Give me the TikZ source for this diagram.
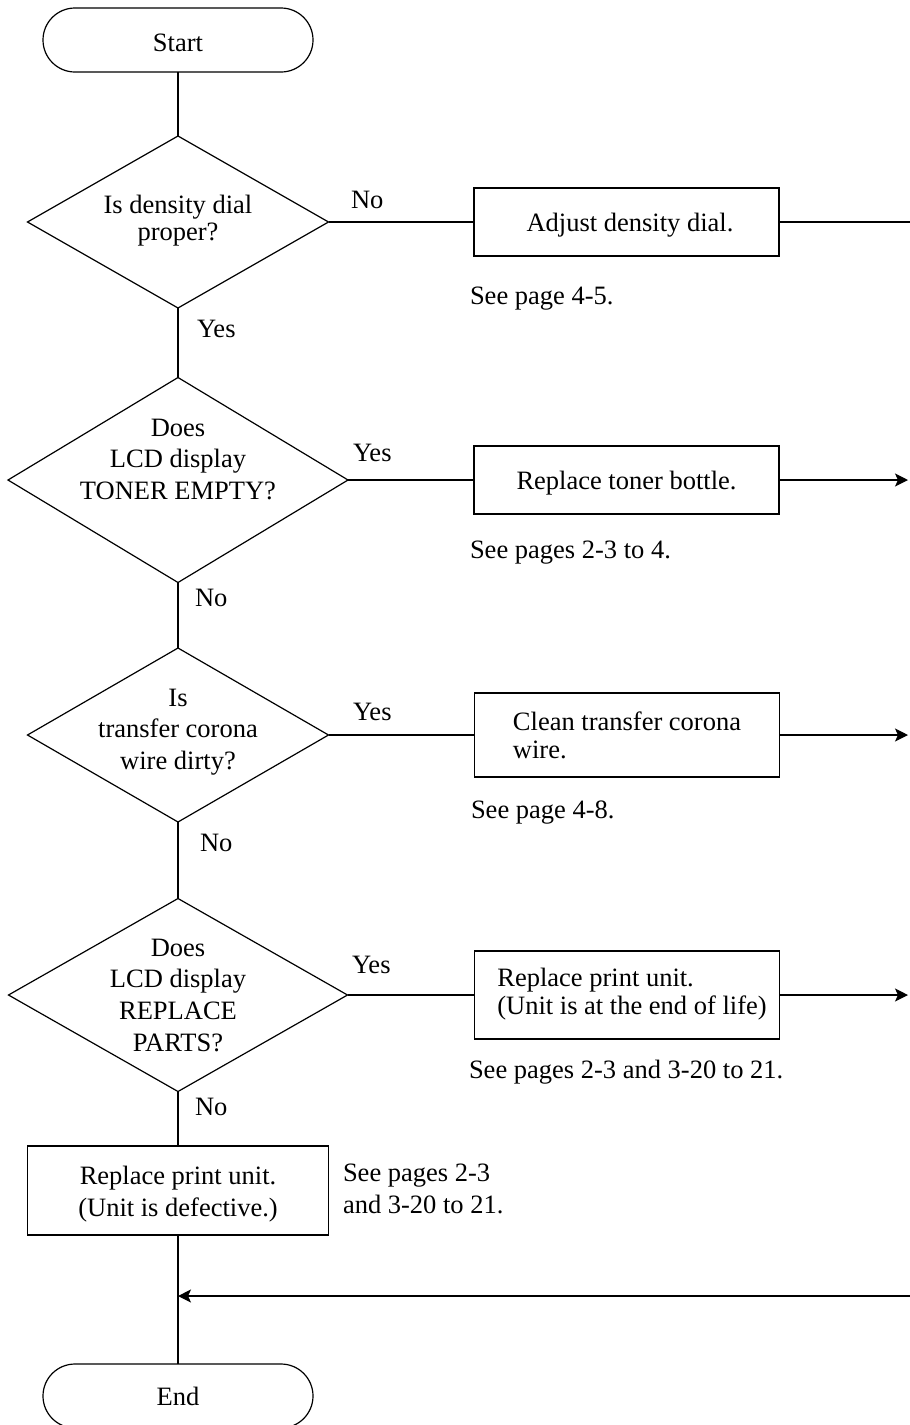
\documentclass[tikz,border=0pt]{standalone}
\usepackage{fontspec}
\setmainfont{Liberation Serif}
\usetikzlibrary{shapes.geometric,arrows.meta}
\newcommand\stk[3]{{\fontsize{26.5}{#1}\selectfont\begin{tabular}[t]{@{}#2@{}}#3\end{tabular}}}
\begin{document}
\begin{tikzpicture}[x=1pt,y=-1pt,line width=1.2pt,
  every node/.style={font=\fontsize{26.5}{31}\selectfont,inner sep=0pt,outer sep=0pt},
  term/.style={draw,rectangle,rounded corners=32pt,minimum width=270pt,minimum height=64pt},
  dec/.style={draw,diamond},
  boxnode/.style={draw,rectangle},
  txt/.style={anchor=base},
  lbl/.style={anchor=west},
  note/.style={anchor=base west},
  arr/.style={-{Stealth[length=13pt,width=13pt,inset=3pt]}}]
\useasboundingbox (0,0) rectangle (910,1425);
\clip (0,0) rectangle (910,1425);

% terminals
\node[term] (start) at (178,40) {};
\node[txt] (startt) at (178,51) {Start};
\node[term] (end) at (178,1396) {};
\node[txt] (endt) at (178,1405) {End};

% decisions
\node[dec,minimum width=301pt,minimum height=172pt] (d1) at (178,222) {};
\node[txt] (d1t) at (178,213) {\stk{27}{c}{Is density dial\\proper?}};
\node[dec,minimum width=340pt,minimum height=205pt] (d2) at (178,480) {};
\node[txt] (d2t) at (178,436) {\stk{31.5}{c}{Does\\LCD display\\TONER EMPTY?}};
\node[dec,minimum width=301pt,minimum height=174pt] (d3) at (178,735) {};
\node[txt] (d3t) at (178,706) {\stk{31.5}{c}{Is\\transfer corona\\wire dirty?}};
\node[dec,minimum width=339pt,minimum height=193pt] (d4) at (178,995) {};
\node[txt] (d4t) at (178,956) {\stk{31.7}{c}{Does\\LCD display\\REPLACE\\PARTS?}};

% action boxes
\node[boxnode,minimum width=305pt,minimum height=68pt] (b1) at (626.5,222) {};
\node[txt] (b1t) at (630,231) {Adjust density dial.};
\node[boxnode,minimum width=305pt,minimum height=68pt] (b2) at (626.5,480) {};
\node[txt] (b2t) at (626.5,489) {Replace toner bottle.};
\node[boxnode,minimum width=305pt,minimum height=84pt] (b3) at (627,735) {};
\node[txt] (b3t) at (627,730) {\stk{28}{l}{Clean transfer corona\\wire.}};
\node[boxnode,minimum width=305pt,minimum height=88pt] (b4) at (627,995) {};
\node[txt] (b4t) at (632,986) {\stk{28}{l}{Replace print unit.\\(Unit is at the end of life)}};
\node[boxnode,minimum width=301pt,minimum height=89pt] (b5) at (178,1190.5) {};
\node[txt] (b5t) at (178,1184) {\stk{32}{c}{Replace print unit.\\(Unit is defective.)}};

% notes
\node[note] (s1) at (470,304) {See page 4-5.};
\node[note] (s2) at (470,558) {See pages 2-3 to 4.};
\node[note] (s3) at (471,818) {See page 4-8.};
\node[note] (s4) at (469,1078) {See pages 2-3 and 3-20 to 21.};
\node[note] (s5) at (343,1181) {\stk{32}{l}{See pages 2-3\\and 3-20 to 21.}};

% branch labels
\node[lbl] (l1) at (351,200) {No};
\node[lbl] (l2) at (197,329) {Yes};
\node[lbl] (l3) at (353,453) {Yes};
\node[lbl] (l4) at (195,598) {No};
\node[lbl] (l5) at (353,712) {Yes};
\node[lbl] (l6) at (200,843) {No};
\node[lbl] (l7) at (352,965) {Yes};
\node[lbl] (l8) at (195,1107) {No};

% edge coordinates
\coordinate (e1) at (910,222);
\coordinate (e2) at (908,480);
\coordinate (e3) at (908,735);
\coordinate (e4) at (908,995);
\coordinate (r0) at (910,1296);
\coordinate (r1) at (178,1296);

% main flow
\draw (start.south) -- (d1.north);
\draw (d1.south) -- (d2.north);
\draw (d2.south) -- (d3.north);
\draw (d3.south) -- (d4.north);
\draw (d4.south) -- (b5.north);
\draw (b5.south) -- (end.north);

% branches
\draw (d1.east) -- (b1.west);
\draw (d2.east) -- (b2.west);
\draw (d3.east) -- (b3.west);
\draw (d4.east) -- (b4.west);
\draw (b1.east) -- (e1);
\draw[arr] (b2.east) -- (e2);
\draw[arr] (b3.east) -- (e3);
\draw[arr] (b4.east) -- (e4);
\draw[arr] (r0) -- (r1);
\end{tikzpicture}
\end{document}
